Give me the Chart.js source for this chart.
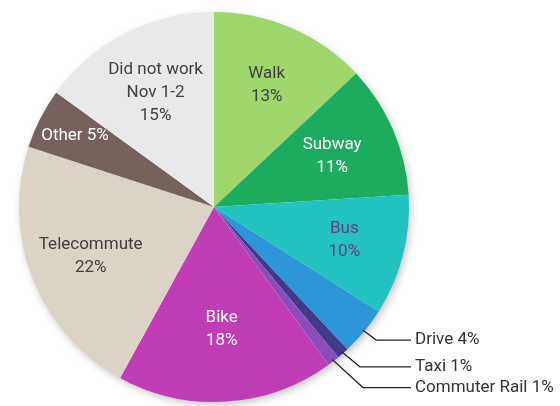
<!DOCTYPE html>
<html>
<head>
<meta charset="utf-8">
<script src="https://cdn.jsdelivr.net/npm/chart.js@4"></script>
<style>
  html, body { margin: 0; padding: 0; background: #fff; }
  #wrap { width: 560px; height: 406px; position: relative; }
</style>
</head>
<body>
<div id="wrap"><canvas id="commuteChart"></canvas></div>
<script>
// commute modes, clockwise from 12 o'clock
const categories = ['Walk', 'Subway', 'Bus', 'Drive', 'Taxi', 'Commuter Rail', 'Bike', 'Telecommute', 'Other', 'Did not work Nov 1-2'];
const shares = [13, 11, 10, 4, 1, 1, 18, 22, 5, 15];

// how each label is written (lines inside the slice, or one line outside)
const labelLines = [
    ['Walk', '13%'],
    ['Subway', '11%'],
    ['Bus', '10%'],
    ['Drive 4%'],
    ['Taxi 1%'],
    ['Commuter Rail 1%'],
    ['Bike', '18%'],
    ['Telecommute', '22%'],
    ['Other 5%'],
    ['Did not work', 'Nov 1-2', '15%']
];

const sliceColors = ['#9fd76c', '#1cac5e', '#22c2c0', '#2b97d6', '#41398a', '#8c4bbb', '#c13db6', '#dbd3c6', '#76625c', '#e9e9eb'];
const textColors = ['#404040', '#ffffff', '#5d4385', '#333333', '#333333', '#333333', '#ffffff', '#404040', '#ffffff', '#404040'];
// inside labels: fraction of radius; outside labels: null
const labelRadius = [0.68, 0.66, 0.69, null, null, null, 0.63, 0.68, 0.80, 0.66];
// outside labels: vertical drop of the elbow below the slice edge
const calloutDrop = [0, 0, 0, 10, 15, 28, 0, 0, 0, 0];

const FONT = "17px 'Roboto', 'Liberation Sans', sans-serif";

const pieShadow = {
    id: 'pieShadow',
    beforeDatasetsDraw(chart) {
        const arc = chart.getDatasetMeta(0).data[0];
        if (!arc) return;
        const ctx = chart.ctx;
        ctx.save();
        ctx.shadowColor = 'rgba(0,0,0,0.28)';
        ctx.shadowBlur = 9;
        ctx.shadowOffsetX = 2;
        ctx.shadowOffsetY = 3;
        ctx.fillStyle = '#ffffff';
        ctx.beginPath();
        ctx.arc(arc.x, arc.y, arc.outerRadius - 1, 0, Math.PI * 2);
        ctx.fill();
        ctx.restore();
    }
};

const sliceLabels = {
    id: 'sliceLabels',
    afterDatasetsDraw(chart) {
        const ctx = chart.ctx;
        const arcs = chart.getDatasetMeta(0).data;
        ctx.save();
        ctx.font = FONT;
        ctx.textBaseline = 'middle';
        arcs.forEach((arc, i) => {
            const mid = (arc.startAngle + arc.endAngle) / 2;
            const r = arc.outerRadius;
            ctx.fillStyle = textColors[i];
            if (labelRadius[i] !== null) {
                const cx = arc.x + Math.cos(mid) * r * labelRadius[i];
                const cy = arc.y + Math.sin(mid) * r * labelRadius[i];
                const lines = labelLines[i];
                const lh = 23;
                ctx.textAlign = 'center';
                lines.forEach((t, k) => {
                    ctx.fillText(t, cx, cy + (k - (lines.length - 1) / 2) * lh);
                });
            } else {
                // leader line: from slice edge, bend, then horizontal to the text
                const sx = arc.x + Math.cos(mid) * r * 0.99;
                const sy = arc.y + Math.sin(mid) * r * 0.99;
                const ey = sy + calloutDrop[i];
                const ex = sx + calloutDrop[i] * 0.95 + 4;
                const endX = arc.x + r + 2;
                ctx.strokeStyle = '#222';
                ctx.lineWidth = 1.2;
                ctx.beginPath();
                ctx.moveTo(sx, sy);
                ctx.lineTo(ex, ey);
                ctx.lineTo(endX, ey);
                ctx.stroke();
                ctx.textAlign = 'left';
                ctx.fillText(labelLines[i][0], endX + 4, ey);
            }
        });
        ctx.restore();
    }
};

const ctx = document.getElementById('commuteChart').getContext('2d');
new Chart(ctx, {
    type: 'pie',
    data: {
        labels: categories,
        datasets: [{
            data: shares,
            backgroundColor: sliceColors,
            borderWidth: 0
        }]
    },
    options: {
        responsive: true,
        maintainAspectRatio: false,
        animation: false,
        layout: {
            padding: { left: 19, right: 151, top: 12, bottom: 4 }
        },
        plugins: {
            legend: { display: false },
            tooltip: { enabled: false }
        }
    },
    plugins: [pieShadow, sliceLabels]
});
</script>
</body>
</html>
